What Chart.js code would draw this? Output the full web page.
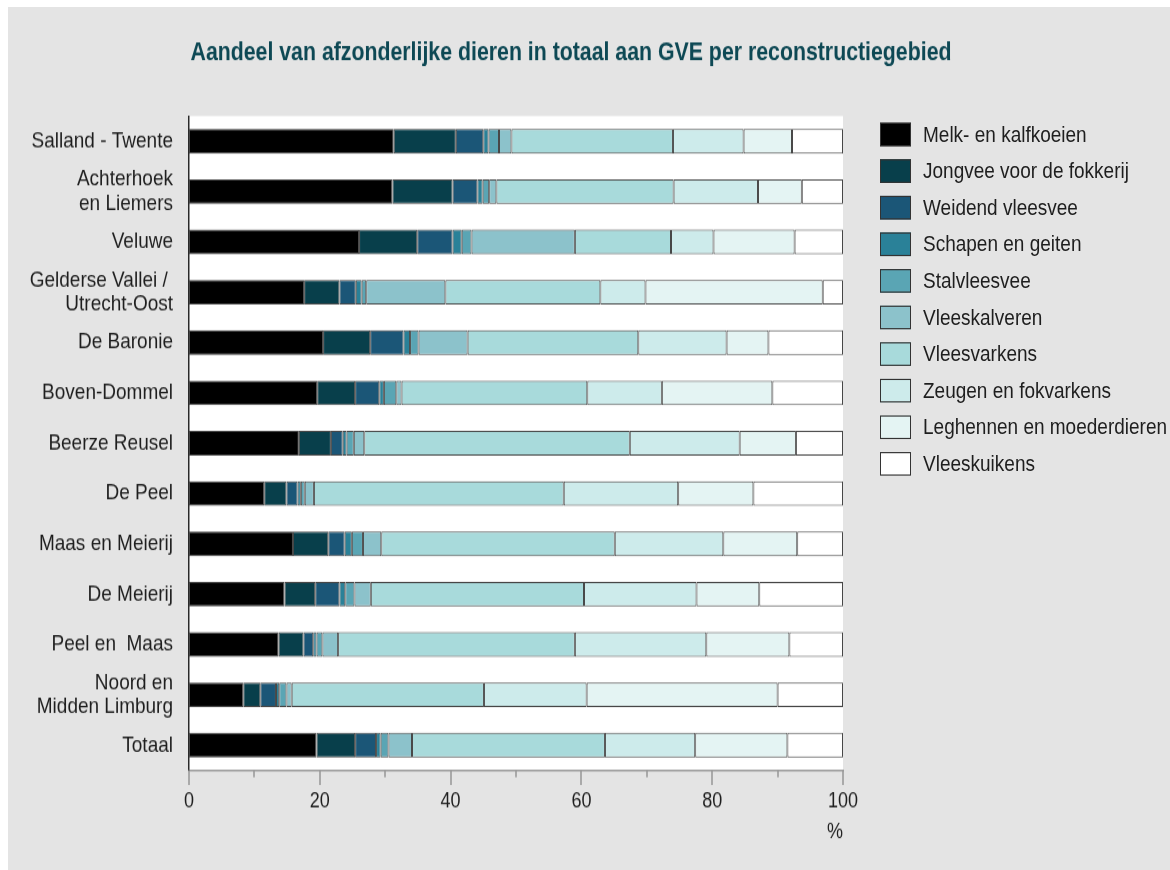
<!DOCTYPE html>
<html>
<head>
<meta charset="utf-8">
<title>Aandeel van afzonderlijke dieren in totaal aan GVE per reconstructiegebied</title>
<script src="https://cdn.jsdelivr.net/npm/chart.js@4/dist/chart.umd.min.js"></script>
<style>
  html, body { margin: 0; padding: 0; background: #ffffff; }
  #panel { position: absolute; left: 8px; top: 7px; width: 1162px; height: 863px; background: #e4e4e4; overflow: hidden; }
  /* the figure is drawn in a narrow-type look: a vertical stretch of the whole stage */
  #stage { position: absolute; left: 0; top: 0; width: 1162px; height: 731px; transform: scale(1, 1.1805); transform-origin: 0 0; }
  #chart { position: absolute; left: 0; top: 0; }
  #legend { position: absolute; left: 872px; top: 92.3px; margin: 0; padding: 0; list-style: none;
            font: 19px "Liberation Sans", Arial, sans-serif; color: #1e1e1e; }
  #legend li { height: 31px; display: flex; align-items: center; white-space: nowrap; }
  #legend .sw { width: 29px; height: 17.5px; border: 1px solid #333333; margin-right: 12px; flex: none; }
</style>
</head>
<body>
<div id="panel">
  <div id="stage">
    <canvas id="chart" width="1162" height="731"></canvas>
    <ul id="legend"></ul>
  </div>
</div>
<script>
// Regions (bottom row is the total)
const categories = [
  "Salland - Twente",
  ["Achterhoek", "en Liemers"],
  "Veluwe",
  ["Gelderse Vallei / ", "Utrecht-Oost"],
  "De Baronie",
  "Boven-Dommel",
  "Beerze Reusel",
  "De Peel",
  "Maas en Meierij",
  "De Meierij",
  "Peel en  Maas",
  ["Noord en", "Midden Limburg"],
  "Totaal"
];

// Share of each animal group in total GVE, percent per region
const melkKalfkoeien   = [31.3, 31.1, 26.0, 17.6, 20.5, 19.6, 16.8, 11.5, 15.9, 14.6, 13.7,  8.3, 19.5];
const jongvee          = [ 9.5,  9.2,  8.9,  5.4,  7.2,  5.8,  4.9,  3.4,  5.4,  4.7,  3.8,  2.6,  5.9];
const weidendVleesvee  = [ 4.2,  3.8,  5.4,  2.5,  5.1,  3.7,  1.8,  1.7,  2.5,  3.7,  1.5,  2.4,  3.2];
const schapenGeiten    = [ 0.8,  0.8,  1.4,  0.9,  1.0,  0.7,  0.6,  0.5,  1.1,  0.9,  0.5,  0.5,  0.7];
const stalvleesvee     = [ 1.6,  1.0,  1.5,  0.7,  1.3,  1.9,  1.1,  0.6,  1.7,  1.4,  0.9,  1.1,  1.2];
const vleeskalveren    = [ 1.9,  1.1, 15.8, 12.1,  7.5,  0.8,  1.6,  1.4,  2.8,  2.5,  2.4,  0.8,  3.6];
const vleesvarkens     = [24.7, 27.1, 14.7, 23.7, 26.1, 28.4, 40.6, 38.2, 35.7, 32.6, 36.2, 29.4, 29.5];
const zeugenFokvarkens = [10.8, 12.9,  6.5,  6.9, 13.5, 11.4, 16.8, 17.5, 16.6, 17.2, 20.1, 15.7, 13.8];
const leghennen        = [ 7.4,  6.7, 12.4, 27.1,  6.4, 16.9,  8.6, 11.5, 11.3,  9.6, 12.7, 29.2, 14.1];
const vleeskuikens     = [ 7.8,  6.3,  7.4,  3.1, 11.4, 10.8,  7.2, 13.7,  7.0, 12.8,  8.2, 10.0,  8.5];

const seriesNames = [
  "Melk- en kalfkoeien",
  "Jongvee voor de fokkerij",
  "Weidend vleesvee",
  "Schapen en geiten",
  "Stalvleesvee",
  "Vleeskalveren",
  "Vleesvarkens",
  "Zeugen en fokvarkens",
  "Leghennen en moederdieren",
  "Vleeskuikens"
];
const seriesValues = [
  melkKalfkoeien, jongvee, weidendVleesvee, schapenGeiten, stalvleesvee,
  vleeskalveren, vleesvarkens, zeugenFokvarkens, leghennen, vleeskuikens
];

// Axis tick values and which of them carry a label
const xTickStep = 10;
const xLabelStep = 20;
const xUnit = "%";
const chartTitle = "Aandeel van afzonderlijke dieren in totaal aan GVE per reconstructiegebied";

// Fill colours, from dark to light
const palette = [
  "#000000", "#083f4b", "#1b5677", "#2a8198", "#5aa5b4",
  "#8cc2cb", "#a8dadb", "#cdebeb", "#e4f4f3", "#ffffff"
];

const FONT = '"Liberation Sans", Arial, Helvetica, sans-serif';
const TEXT = "#1e1e1e";
Chart.defaults.font.family = FONT;
Chart.defaults.color = TEXT;

// White plotting field behind the bars
const plotField = {
  id: "plotField",
  beforeDraw(chart) {
    const { ctx, chartArea: a } = chart;
    ctx.save();
    ctx.fillStyle = "#ffffff";
    ctx.fillRect(a.left, a.top, a.right - a.left, a.bottom - a.top);
    ctx.restore();
  }
};

// Tick marks under the value axis: long at labelled values, short in between
const valueTicks = {
  id: "valueTicks",
  afterDraw(chart) {
    const { ctx, chartArea: a } = chart;
    const sx = chart.scales.x;
    ctx.save();
    ctx.strokeStyle = "#9a9a9a";
    ctx.lineWidth = 1.6;
    sx.ticks.forEach(t => {
      const px = Math.round(sx.getPixelForValue(t.value));
      const len = t.value % xLabelStep === 0 ? 12.5 : 6;
      ctx.beginPath();
      ctx.moveTo(px, a.bottom);
      ctx.lineTo(px, a.bottom + len);
      ctx.stroke();
    });
    ctx.restore();
  }
};

// Heading above the plotting field
const heading = {
  id: "heading",
  afterDraw(chart) {
    const { ctx, chartArea: a } = chart;
    ctx.save();
    ctx.font = "bold 21.3px " + FONT;
    ctx.fillStyle = "#0d4854";
    ctx.textAlign = "left";
    ctx.textBaseline = "middle";
    ctx.fillText(chartTitle, a.left + 1.5, 38.8);
    ctx.restore();
  }
};

const chart = new Chart(document.getElementById("chart"), {
  type: "bar",
  data: {
    labels: categories,
    datasets: seriesValues.map((vals, i) => ({
      label: seriesNames[i],
      data: vals,
      backgroundColor: palette[i],
      borderColor: "#474747",
      borderWidth: 1,
      borderSkipped: false,
      barPercentage: 0.49,
      categoryPercentage: 1
    }))
  },
  options: {
    indexAxis: "y",
    responsive: false,
    animation: false,
    devicePixelRatio: 1,
    layout: { padding: { left: 0, right: 327, top: 92.4, bottom: 0 } },
    plugins: {
      legend: { display: false },
      tooltip: { enabled: false }
    },
    scales: {
      x: {
        stacked: true,
        min: 0,
        max: 100,
        grid: { display: false, drawTicks: false },
        border: { display: true, color: "#9a9a9a", width: 1.5 },
        ticks: {
          stepSize: xTickStep,
          autoSkip: false,
          maxRotation: 0,
          padding: 16,
          color: TEXT,
          font: { size: 18 },
          callback: v => (v % xLabelStep === 0 ? String(v) : "")
        },
        title: {
          display: true,
          text: xUnit,
          align: "end",
          color: TEXT,
          font: { size: 18 },
          padding: { top: 0, bottom: 21 }
        },
        afterFit(scale) { scale.height = 84.4; }
      },
      y: {
        stacked: true,
        grid: { display: false, drawTicks: false },
        border: { display: true, color: "#2a2a2a", width: 1.5 },
        ticks: {
          autoSkip: false,
          padding: 16,
          color: TEXT,
          font: { size: 19, lineHeight: 1.07 }
        },
        afterFit(scale) { scale.width = 181; }
      }
    }
  },
  plugins: [plotField, valueTicks, heading]
});

// Legend list built from the same series
const legendEl = document.getElementById("legend");
seriesNames.forEach((name, i) => {
  const li = document.createElement("li");
  const sw = document.createElement("span");
  sw.className = "sw";
  sw.style.background = palette[i];
  li.appendChild(sw);
  li.appendChild(document.createTextNode(name));
  legendEl.appendChild(li);
});
</script>
</body>
</html>
